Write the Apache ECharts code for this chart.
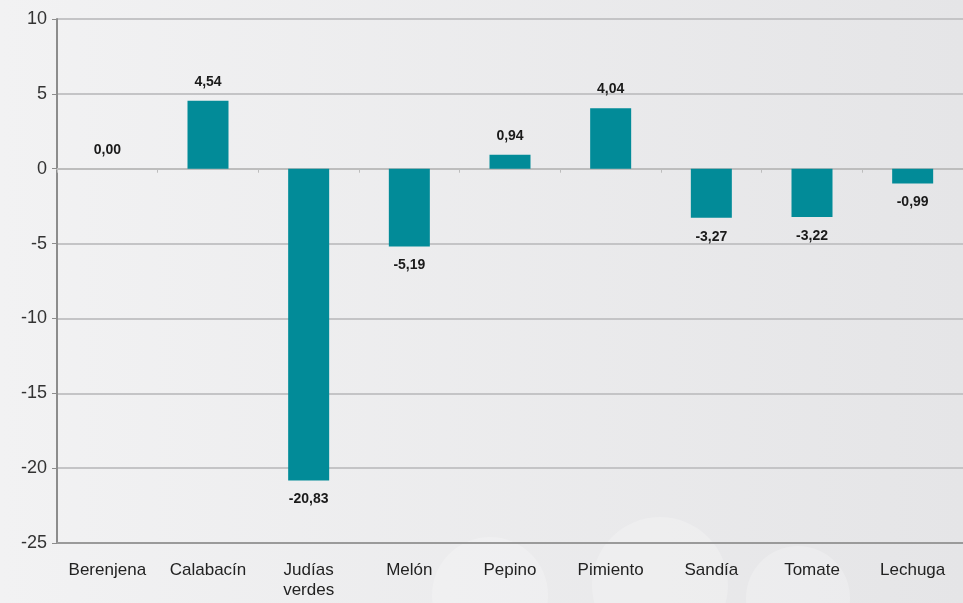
<!DOCTYPE html>
<html>
<head>
<meta charset="utf-8">
<script src="https://cdn.jsdelivr.net/npm/echarts@6/dist/echarts.min.js"></script>
<style>
  html, body { margin: 0; padding: 0; }
  #chart { width: 963px; height: 603px; background: linear-gradient(to right, #f2f2f3, #e5e5e7); }
</style>
</head>
<body>
<div id="chart"></div>
<script>
// datos
var categorias = ['Berenjena', 'Calabacín', 'Judías\nverdes', 'Melón', 'Pepino', 'Pimiento', 'Sandía', 'Tomate', 'Lechuga'];
var variacion = [0.00, 4.54, -20.83, -5.19, 0.94, 4.04, -3.27, -3.22, -0.99];
var ejeY = { min: -25, max: 10, interval: 5 };

var chart = echarts.init(document.getElementById('chart'));
var fuente = '"Liberation Sans", Arial, sans-serif';

chart.setOption({
  animation: false,
  grid: { left: 57, right: -6, top: 19, bottom: 60 },
  graphic: [
    { type: 'circle', shape: { cx: 490, cy: 595, r: 58 }, style: { fill: 'rgba(255,255,255,0.22)' }, z: -1 },
    { type: 'circle', shape: { cx: 660, cy: 585, r: 68 }, style: { fill: 'rgba(255,255,255,0.22)' }, z: -1 },
    { type: 'circle', shape: { cx: 798, cy: 598, r: 52 }, style: { fill: 'rgba(255,255,255,0.22)' }, z: -1 }
  ],
  xAxis: [{
    type: 'category',
    data: categorias,
    position: 'bottom',
    axisLine: { onZero: false, lineStyle: { color: '#9a9a9a', width: 2 } },
    axisTick: { show: false },
    axisLabel: { color: '#222', fontSize: 17, fontFamily: fuente, margin: 17, lineHeight: 20, interval: 0 }
  }, {
    type: 'category',
    data: categorias,
    position: 'bottom',
    axisLine: { onZero: true, lineStyle: { color: '#bdbdbd', width: 2 } },
    axisTick: { show: true, length: 4, lineStyle: { color: '#bdbdbd', width: 1 } },
    axisLabel: { show: false }
  }],
  yAxis: {
    type: 'value',
    min: ejeY.min,
    max: ejeY.max,
    interval: ejeY.interval,
    axisLine: { show: true, lineStyle: { color: '#8c8c8c', width: 2 } },
    axisTick: { show: true, length: 5, lineStyle: { color: '#8c8c8c' } },
    axisLabel: { color: '#333', fontSize: 18, fontFamily: fuente, margin: 10 },
    splitLine: { lineStyle: { color: '#c4c4c6', width: 2 } }
  },
  series: [{
    type: 'bar',
    data: variacion.map(function (v) {
      return v < 0 ? { value: v, label: { position: 'bottom' } } : v;
    }),
    barWidth: 41,
    itemStyle: { color: '#028b98' },
    label: {
      show: true,
      position: 'top',
      distance: 12,
      color: '#1a1a1a',
      fontSize: 14,
      fontWeight: 'bold',
      fontFamily: fuente,
      formatter: function (p) { return p.value.toFixed(2).replace('.', ','); }
    }
  }]
});
</script>
</body>
</html>
